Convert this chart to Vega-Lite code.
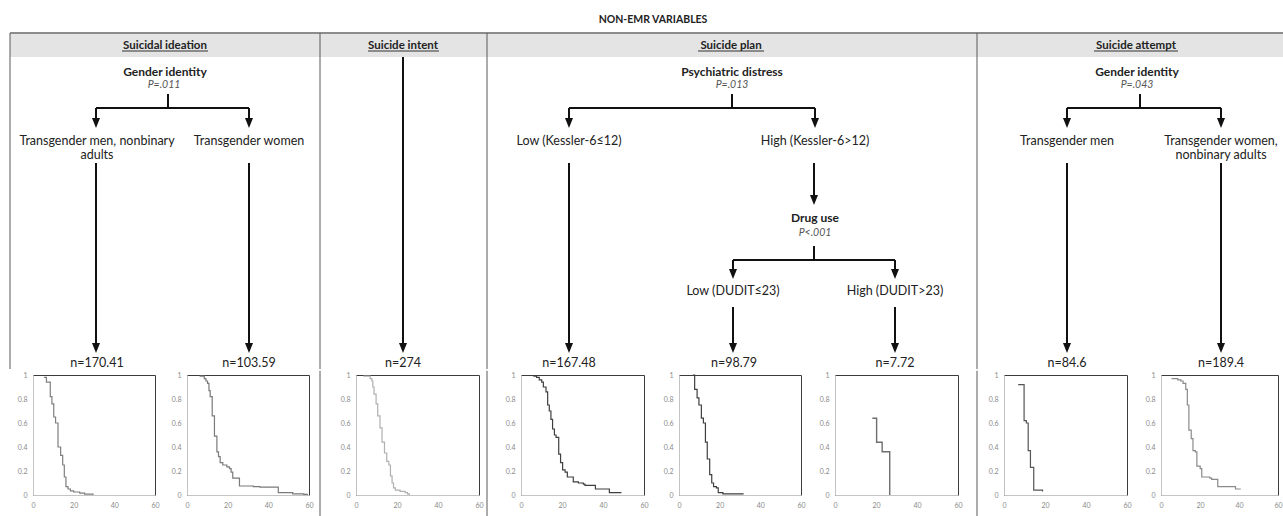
{
  "$schema": "https://vega.github.io/schema/vega-lite/v6.json",
  "padding": 0,
  "background": "white",
  "spacing": 0,
  "config": {
    "view": {"stroke": null},
    "concat": {"spacing": 0},
    "text": {"font": "Lato"},
    "axis": {"labelFont": "Lato", "labelColor": "#8a8a8a", "labelFontSize": 7, "domainColor": "#c4c4c4", "ticks": false, "grid": false}
  },
  "datasets": {
    "band": [{"x": 10, "x2": 1283, "y": 33, "y2": 57}],
    "lines": [
      {"kind": "frame", "x": 10, "y": 33, "x2": 1283, "y2": 33},
      {"kind": "divider", "x": 10, "y": 33, "x2": 10, "y2": 369},
      {"kind": "divider", "x": 320, "y": 33, "x2": 320, "y2": 369},
      {"kind": "divider", "x": 487, "y": 33, "x2": 487, "y2": 369},
      {"kind": "divider", "x": 977, "y": 33, "x2": 977, "y2": 369},
      {"kind": "underline", "x": 122, "y": 51, "x2": 208, "y2": 51},
      {"kind": "underline", "x": 368, "y": 51, "x2": 439, "y2": 51},
      {"kind": "underline", "x": 698, "y": 51, "x2": 764, "y2": 51},
      {"kind": "underline", "x": 1094, "y": 51, "x2": 1178, "y2": 51},
      {"kind": "edge", "x": 168, "y": 94, "x2": 168, "y2": 108},
      {"kind": "edge", "x": 96, "y": 108, "x2": 249, "y2": 108},
      {"kind": "edge", "x": 96, "y": 108, "x2": 96, "y2": 119},
      {"kind": "edge", "x": 249, "y": 108, "x2": 249, "y2": 119},
      {"kind": "edge", "x": 96, "y": 163, "x2": 96, "y2": 344},
      {"kind": "edge", "x": 249, "y": 163, "x2": 249, "y2": 344},
      {"kind": "edge", "x": 403, "y": 57, "x2": 403, "y2": 344},
      {"kind": "edge", "x": 732, "y": 94, "x2": 732, "y2": 108},
      {"kind": "edge", "x": 569, "y": 108, "x2": 815, "y2": 108},
      {"kind": "edge", "x": 569, "y": 108, "x2": 569, "y2": 119},
      {"kind": "edge", "x": 815, "y": 108, "x2": 815, "y2": 119},
      {"kind": "edge", "x": 569, "y": 163, "x2": 569, "y2": 344},
      {"kind": "edge", "x": 814, "y": 163, "x2": 814, "y2": 196},
      {"kind": "edge", "x": 814, "y": 246, "x2": 814, "y2": 260},
      {"kind": "edge", "x": 733, "y": 260, "x2": 895, "y2": 260},
      {"kind": "edge", "x": 733, "y": 260, "x2": 733, "y2": 270},
      {"kind": "edge", "x": 895, "y": 260, "x2": 895, "y2": 270},
      {"kind": "edge", "x": 733, "y": 307, "x2": 733, "y2": 344},
      {"kind": "edge", "x": 895, "y": 307, "x2": 895, "y2": 344},
      {"kind": "edge", "x": 1140, "y": 94, "x2": 1140, "y2": 108},
      {"kind": "edge", "x": 1067, "y": 108, "x2": 1221, "y2": 108},
      {"kind": "edge", "x": 1067, "y": 108, "x2": 1067, "y2": 119},
      {"kind": "edge", "x": 1221, "y": 108, "x2": 1221, "y2": 119},
      {"kind": "edge", "x": 1067, "y": 163, "x2": 1067, "y2": 344},
      {"kind": "edge", "x": 1221, "y": 163, "x2": 1221, "y2": 344}
    ],
    "heads": [
      {"x": 96, "y": 123}, {"x": 249, "y": 123}, {"x": 96, "y": 348}, {"x": 249, "y": 348},
      {"x": 403, "y": 348},
      {"x": 569, "y": 123}, {"x": 815, "y": 123}, {"x": 569, "y": 348}, {"x": 814, "y": 200},
      {"x": 733, "y": 274}, {"x": 895, "y": 274}, {"x": 733, "y": 348}, {"x": 895, "y": 348},
      {"x": 1067, "y": 123}, {"x": 1221, "y": 123}, {"x": 1067, "y": 348}, {"x": 1221, "y": 348}
    ],
    "texts": [
      {"kind": "title", "x": 653, "y": 20, "label": "NON-EMR VARIABLES"},
      {"kind": "header", "x": 165, "y": 46, "label": "Suicidal ideation"},
      {"kind": "header", "x": 403, "y": 46, "label": "Suicide intent"},
      {"kind": "header", "x": 731, "y": 46, "label": "Suicide plan"},
      {"kind": "header", "x": 1136, "y": 46, "label": "Suicide attempt"},
      {"kind": "node", "x": 165, "y": 72, "label": "Gender identity"},
      {"kind": "node", "x": 732, "y": 72, "label": "Psychiatric distress"},
      {"kind": "node", "x": 1137, "y": 72, "label": "Gender identity"},
      {"kind": "node", "x": 815, "y": 218, "label": "Drug use"},
      {"kind": "p", "x": 164, "y": 85, "label": "P=.011"},
      {"kind": "p", "x": 732, "y": 85, "label": "P=.013"},
      {"kind": "p", "x": 1137, "y": 85, "label": "P=.043"},
      {"kind": "p", "x": 815, "y": 233, "label": "P<.001"},
      {"kind": "leaf", "x": 97, "y": 141, "label": "Transgender men, nonbinary"},
      {"kind": "leaf", "x": 97, "y": 155, "label": "adults"},
      {"kind": "leaf", "x": 249, "y": 141, "label": "Transgender women"},
      {"kind": "leaf", "x": 569, "y": 141, "label": "Low (Kessler-6≤12)"},
      {"kind": "leaf", "x": 815, "y": 141, "label": "High (Kessler-6>12)"},
      {"kind": "leaf", "x": 733, "y": 291, "label": "Low (DUDIT≤23)"},
      {"kind": "leaf", "x": 895, "y": 291, "label": "High (DUDIT>23)"},
      {"kind": "leaf", "x": 1067, "y": 141, "label": "Transgender men"},
      {"kind": "leaf", "x": 1221, "y": 141, "label": "Transgender women,"},
      {"kind": "leaf", "x": 1221, "y": 155, "label": "nonbinary adults"},
      {"kind": "n", "x": 97, "y": 363, "label": "n=170.41"},
      {"kind": "n", "x": 249, "y": 363, "label": "n=103.59"},
      {"kind": "n", "x": 403, "y": 363, "label": "n=274"},
      {"kind": "n", "x": 569, "y": 363, "label": "n=167.48"},
      {"kind": "n", "x": 734, "y": 363, "label": "n=98.79"},
      {"kind": "n", "x": 895, "y": 363, "label": "n=7.72"},
      {"kind": "n", "x": 1067, "y": 363, "label": "n=84.6"},
      {"kind": "n", "x": 1221, "y": 363, "label": "n=189.4"}
    ],
    "km": [
      {"group": "p1", "t": 5.4, "s": 0.98}, {"group": "p1", "t": 6.6, "s": 0.94}, {"group": "p1", "t": 8.5, "s": 0.82}, {"group": "p1", "t": 9.3, "s": 0.76}, {"group": "p1", "t": 10.2, "s": 0.65}, {"group": "p1", "t": 11.1, "s": 0.6}, {"group": "p1", "t": 12.3, "s": 0.4}, {"group": "p1", "t": 13.6, "s": 0.33}, {"group": "p1", "t": 14.6, "s": 0.25}, {"group": "p1", "t": 15.4, "s": 0.15}, {"group": "p1", "t": 16.2, "s": 0.07}, {"group": "p1", "t": 17.2, "s": 0.05}, {"group": "p1", "t": 18.4, "s": 0.035}, {"group": "p1", "t": 20, "s": 0.025}, {"group": "p1", "t": 23, "s": 0.015}, {"group": "p1", "t": 25.4, "s": 0.007}, {"group": "p1", "t": 29.5, "s": 0},
      {"group": "p2", "t": 6.2, "s": 0.99}, {"group": "p2", "t": 8.5, "s": 0.97}, {"group": "p2", "t": 9.3, "s": 0.95}, {"group": "p2", "t": 10.1, "s": 0.93}, {"group": "p2", "t": 10.8, "s": 0.87}, {"group": "p2", "t": 11.4, "s": 0.82}, {"group": "p2", "t": 12.4, "s": 0.66}, {"group": "p2", "t": 13.5, "s": 0.49}, {"group": "p2", "t": 14.7, "s": 0.36}, {"group": "p2", "t": 15.5, "s": 0.32}, {"group": "p2", "t": 16.3, "s": 0.27}, {"group": "p2", "t": 17.6, "s": 0.25}, {"group": "p2", "t": 19.6, "s": 0.235}, {"group": "p2", "t": 20.9, "s": 0.22}, {"group": "p2", "t": 21.7, "s": 0.19}, {"group": "p2", "t": 22.5, "s": 0.14}, {"group": "p2", "t": 25.8, "s": 0.075}, {"group": "p2", "t": 32.6, "s": 0.07}, {"group": "p2", "t": 35.9, "s": 0.065}, {"group": "p2", "t": 44.9, "s": 0.02}, {"group": "p2", "t": 52, "s": 0.01}, {"group": "p2", "t": 57.4, "s": 0.005}, {"group": "p2", "t": 59.5, "s": 0.005},
      {"group": "p3", "t": 3.6, "s": 0.99}, {"group": "p3", "t": 6.9, "s": 0.97}, {"group": "p3", "t": 7.7, "s": 0.95}, {"group": "p3", "t": 8.2, "s": 0.9}, {"group": "p3", "t": 8.8, "s": 0.84}, {"group": "p3", "t": 9.8, "s": 0.76}, {"group": "p3", "t": 10.6, "s": 0.66}, {"group": "p3", "t": 11.7, "s": 0.56}, {"group": "p3", "t": 12.7, "s": 0.44}, {"group": "p3", "t": 13.9, "s": 0.35}, {"group": "p3", "t": 15, "s": 0.28}, {"group": "p3", "t": 16, "s": 0.25}, {"group": "p3", "t": 16.8, "s": 0.16}, {"group": "p3", "t": 17.6, "s": 0.1}, {"group": "p3", "t": 18.3, "s": 0.06}, {"group": "p3", "t": 19.2, "s": 0.04}, {"group": "p3", "t": 21.5, "s": 0.03}, {"group": "p3", "t": 24, "s": 0.02}, {"group": "p3", "t": 25.1, "s": 0.01}, {"group": "p3", "t": 26, "s": 0},
      {"group": "p4", "t": 6, "s": 0.99}, {"group": "p4", "t": 7.6, "s": 0.98}, {"group": "p4", "t": 8.9, "s": 0.96}, {"group": "p4", "t": 10.1, "s": 0.94}, {"group": "p4", "t": 10.9, "s": 0.9}, {"group": "p4", "t": 12.2, "s": 0.86}, {"group": "p4", "t": 13, "s": 0.75}, {"group": "p4", "t": 13.8, "s": 0.7}, {"group": "p4", "t": 14.6, "s": 0.63}, {"group": "p4", "t": 15.4, "s": 0.55}, {"group": "p4", "t": 16.3, "s": 0.5}, {"group": "p4", "t": 17.1, "s": 0.48}, {"group": "p4", "t": 18.4, "s": 0.34}, {"group": "p4", "t": 19.3, "s": 0.27}, {"group": "p4", "t": 20.3, "s": 0.21}, {"group": "p4", "t": 21.5, "s": 0.19}, {"group": "p4", "t": 22.6, "s": 0.15}, {"group": "p4", "t": 25.5, "s": 0.11}, {"group": "p4", "t": 28, "s": 0.1}, {"group": "p4", "t": 30.4, "s": 0.09}, {"group": "p4", "t": 31.2, "s": 0.08}, {"group": "p4", "t": 36.3, "s": 0.05}, {"group": "p4", "t": 43.1, "s": 0.02}, {"group": "p4", "t": 49, "s": 0.02},
      {"group": "p5", "t": 6.9, "s": 1}, {"group": "p5", "t": 7.7, "s": 0.88}, {"group": "p5", "t": 8.9, "s": 0.81}, {"group": "p5", "t": 9.8, "s": 0.75}, {"group": "p5", "t": 11, "s": 0.64}, {"group": "p5", "t": 12, "s": 0.6}, {"group": "p5", "t": 13, "s": 0.44}, {"group": "p5", "t": 13.9, "s": 0.3}, {"group": "p5", "t": 15.1, "s": 0.17}, {"group": "p5", "t": 16.1, "s": 0.1}, {"group": "p5", "t": 17, "s": 0.07}, {"group": "p5", "t": 18.4, "s": 0.06}, {"group": "p5", "t": 19.3, "s": 0.02}, {"group": "p5", "t": 21.6, "s": 0.01}, {"group": "p5", "t": 31.5, "s": 0.005},
      {"group": "p6", "t": 18.2, "s": 0.64}, {"group": "p6", "t": 20.3, "s": 0.44}, {"group": "p6", "t": 23, "s": 0.36}, {"group": "p6", "t": 26.7, "s": 0},
      {"group": "p7", "t": 6.9, "s": 0.92}, {"group": "p7", "t": 9.8, "s": 0.62}, {"group": "p7", "t": 10.9, "s": 0.6}, {"group": "p7", "t": 11.8, "s": 0.37}, {"group": "p7", "t": 12.9, "s": 0.23}, {"group": "p7", "t": 14.5, "s": 0.04}, {"group": "p7", "t": 18.8, "s": 0.03},
      {"group": "p8", "t": 5.4, "s": 0.97}, {"group": "p8", "t": 8.6, "s": 0.96}, {"group": "p8", "t": 10.2, "s": 0.95}, {"group": "p8", "t": 11.3, "s": 0.93}, {"group": "p8", "t": 12.7, "s": 0.88}, {"group": "p8", "t": 13.5, "s": 0.75}, {"group": "p8", "t": 14.3, "s": 0.54}, {"group": "p8", "t": 15.5, "s": 0.47}, {"group": "p8", "t": 16.4, "s": 0.37}, {"group": "p8", "t": 17.6, "s": 0.36}, {"group": "p8", "t": 18.4, "s": 0.24}, {"group": "p8", "t": 20.1, "s": 0.22}, {"group": "p8", "t": 20.9, "s": 0.15}, {"group": "p8", "t": 25, "s": 0.14}, {"group": "p8", "t": 26, "s": 0.13}, {"group": "p8", "t": 29.1, "s": 0.07}, {"group": "p8", "t": 38.2, "s": 0.05}, {"group": "p8", "t": 40.6, "s": 0.045}
    ],
    "div": [{"a": 0, "b": 1.03}]
  },
  "vconcat": [
    {
      "width": 1283,
      "height": 369,
      "encoding": {
        "x": {"field": "x", "type": "quantitative", "scale": {"domain": [0, 1283], "nice": false, "zero": false}, "axis": null},
        "y": {"field": "y", "type": "quantitative", "scale": {"domain": [0, 369], "nice": false, "zero": false, "reverse": true}, "axis": null}
      },
      "layer": [
        {"data": {"name": "band"}, "mark": {"type": "rect", "color": "#e4e4e4"}, "encoding": {"x2": {"field": "x2"}, "y2": {"field": "y2"}}},
        {"data": {"name": "lines"}, "transform": [{"filter": "datum.kind == 'frame'"}], "mark": {"type": "rule", "color": "#8c8c8c", "strokeWidth": 2}, "encoding": {"x2": {"field": "x2"}, "y2": {"field": "y2"}}},
        {"data": {"name": "lines"}, "transform": [{"filter": "datum.kind == 'divider'"}], "mark": {"type": "rule", "color": "#595959", "strokeWidth": 1}, "encoding": {"x2": {"field": "x2"}, "y2": {"field": "y2"}}},
        {"data": {"name": "lines"}, "transform": [{"filter": "datum.kind == 'underline'"}], "mark": {"type": "rule", "color": "#333333", "strokeWidth": 1}, "encoding": {"x2": {"field": "x2"}, "y2": {"field": "y2"}}},
        {"data": {"name": "lines"}, "transform": [{"filter": "datum.kind == 'edge'"}], "mark": {"type": "rule", "color": "#111111", "strokeWidth": 2}, "encoding": {"x2": {"field": "x2"}, "y2": {"field": "y2"}}},
        {"data": {"name": "heads"}, "mark": {"type": "point", "shape": "M-0.8,-1L0.8,-1L0,1Z", "size": 100, "filled": true, "color": "#111111", "opacity": 1, "strokeWidth": 0}},
        {"data": {"name": "texts"}, "transform": [{"filter": "datum.kind == 'title'"}], "mark": {"type": "text", "fontWeight": "bold", "fontSize": 10.5, "color": "#222222", "baseline": "middle"}, "encoding": {"text": {"field": "label"}}},
        {"data": {"name": "texts"}, "transform": [{"filter": "datum.kind == 'header'"}], "mark": {"type": "text", "fontWeight": "bold", "fontSize": 11.5, "color": "#222222", "baseline": "middle"}, "encoding": {"text": {"field": "label"}}},
        {"data": {"name": "texts"}, "transform": [{"filter": "datum.kind == 'node'"}], "mark": {"type": "text", "fontWeight": "bold", "fontSize": 12, "color": "#222222", "baseline": "middle"}, "encoding": {"text": {"field": "label"}}},
        {"data": {"name": "texts"}, "transform": [{"filter": "datum.kind == 'p'"}], "mark": {"type": "text", "fontStyle": "italic", "fontSize": 10.5, "color": "#555555", "baseline": "middle"}, "encoding": {"text": {"field": "label"}}},
        {"data": {"name": "texts"}, "transform": [{"filter": "datum.kind == 'leaf'"}], "mark": {"type": "text", "fontSize": 12.5, "color": "#222222", "baseline": "middle"}, "encoding": {"text": {"field": "label"}}},
        {"data": {"name": "texts"}, "transform": [{"filter": "datum.kind == 'n'"}], "mark": {"type": "text", "fontSize": 12.5, "color": "#222222", "baseline": "middle"}, "encoding": {"text": {"field": "label"}}}
      ]
    },
    {
      "bounds": "flush",
      "spacing": 0,
      "hconcat": [
        {"width": 33, "height": 1, "data": {"values": []}, "mark": {"type": "point", "opacity": 0}},
        {"width": 122, "height": 120, "view": {"stroke": "#3c3c3c"}, "data": {"name": "km"}, "transform": [{"filter": "datum.group == 'p1'"}], "mark": {"type": "line", "interpolate": "step-after", "color": "#7f7f7f", "strokeWidth": 1.2},
          "encoding": {"x": {"field": "t", "type": "quantitative", "scale": {"domain": [0, 60], "nice": false}, "axis": {"values": [0, 20, 40, 60], "labelFlush": false, "labelPadding": 6, "title": null}}, "y": {"field": "s", "type": "quantitative", "scale": {"domain": [0, 1], "nice": false}, "axis": {"values": [0, 0.2, 0.4, 0.6, 0.8, 1], "format": "~g", "labelPadding": 6, "title": null}}}},
        {"width": 32, "height": 1, "data": {"values": []}, "mark": {"type": "point", "opacity": 0}},
        {"width": 122, "height": 120, "view": {"stroke": "#3c3c3c"}, "data": {"name": "km"}, "transform": [{"filter": "datum.group == 'p2'"}], "mark": {"type": "line", "interpolate": "step-after", "color": "#7a7a7a", "strokeWidth": 1.2},
          "encoding": {"x": {"field": "t", "type": "quantitative", "scale": {"domain": [0, 60], "nice": false}, "axis": {"values": [0, 20, 40, 60], "labelFlush": false, "labelPadding": 6, "title": null}}, "y": {"field": "s", "type": "quantitative", "scale": {"domain": [0, 1], "nice": false}, "axis": {"values": [0, 0.2, 0.4, 0.6, 0.8, 1], "format": "~g", "labelPadding": 6, "title": null}}}},
        {"width": 11, "height": 1, "data": {"values": []}, "mark": {"type": "point", "opacity": 0}},
        {"width": 1, "height": 143, "data": {"name": "div"}, "mark": {"type": "rule", "color": "#595959", "strokeWidth": 1, "clip": false},
          "encoding": {"x": {"field": "a", "type": "quantitative", "scale": {"domain": [0, 1]}, "axis": null}, "y": {"field": "a", "type": "quantitative", "scale": {"domain": [0, 1], "nice": false}, "axis": null}, "y2": {"field": "b"}}},
        {"width": 35, "height": 1, "data": {"values": []}, "mark": {"type": "point", "opacity": 0}},
        {"width": 123, "height": 120, "view": {"stroke": "#3c3c3c"}, "data": {"name": "km"}, "transform": [{"filter": "datum.group == 'p3'"}], "mark": {"type": "line", "interpolate": "step-after", "color": "#b0b0b0", "strokeWidth": 1.2},
          "encoding": {"x": {"field": "t", "type": "quantitative", "scale": {"domain": [0, 60], "nice": false}, "axis": {"values": [0, 20, 40, 60], "labelFlush": false, "labelPadding": 6, "title": null}}, "y": {"field": "s", "type": "quantitative", "scale": {"domain": [0, 1], "nice": false}, "axis": {"values": [0, 0.2, 0.4, 0.6, 0.8, 1], "format": "~g", "labelPadding": 6, "title": null}}}},
        {"width": 8, "height": 1, "data": {"values": []}, "mark": {"type": "point", "opacity": 0}},
        {"width": 1, "height": 143, "data": {"name": "div"}, "mark": {"type": "rule", "color": "#595959", "strokeWidth": 1, "clip": false},
          "encoding": {"x": {"field": "a", "type": "quantitative", "scale": {"domain": [0, 1]}, "axis": null}, "y": {"field": "a", "type": "quantitative", "scale": {"domain": [0, 1], "nice": false}, "axis": null}, "y2": {"field": "b"}}},
        {"width": 33, "height": 1, "data": {"values": []}, "mark": {"type": "point", "opacity": 0}},
        {"width": 123, "height": 120, "view": {"stroke": "#3c3c3c"}, "data": {"name": "km"}, "transform": [{"filter": "datum.group == 'p4'"}], "mark": {"type": "line", "interpolate": "step-after", "color": "#3f3f3f", "strokeWidth": 1.2},
          "encoding": {"x": {"field": "t", "type": "quantitative", "scale": {"domain": [0, 60], "nice": false}, "axis": {"values": [0, 20, 40, 60], "labelFlush": false, "labelPadding": 6, "title": null}}, "y": {"field": "s", "type": "quantitative", "scale": {"domain": [0, 1], "nice": false}, "axis": {"values": [0, 0.2, 0.4, 0.6, 0.8, 1], "format": "~g", "labelPadding": 6, "title": null}}}},
        {"width": 35, "height": 1, "data": {"values": []}, "mark": {"type": "point", "opacity": 0}},
        {"width": 122, "height": 120, "view": {"stroke": "#3c3c3c"}, "data": {"name": "km"}, "transform": [{"filter": "datum.group == 'p5'"}], "mark": {"type": "line", "interpolate": "step-after", "color": "#3f3f3f", "strokeWidth": 1.2},
          "encoding": {"x": {"field": "t", "type": "quantitative", "scale": {"domain": [0, 60], "nice": false}, "axis": {"values": [0, 20, 40, 60], "labelFlush": false, "labelPadding": 6, "title": null}}, "y": {"field": "s", "type": "quantitative", "scale": {"domain": [0, 1], "nice": false}, "axis": {"values": [0, 0.2, 0.4, 0.6, 0.8, 1], "format": "~g", "labelPadding": 6, "title": null}}}},
        {"width": 34, "height": 1, "data": {"values": []}, "mark": {"type": "point", "opacity": 0}},
        {"width": 123, "height": 120, "view": {"stroke": "#3c3c3c"}, "data": {"name": "km"}, "transform": [{"filter": "datum.group == 'p6'"}], "mark": {"type": "line", "interpolate": "step-after", "color": "#6e6e6e", "strokeWidth": 1.4},
          "encoding": {"x": {"field": "t", "type": "quantitative", "scale": {"domain": [0, 60], "nice": false}, "axis": {"values": [0, 20, 40, 60], "labelFlush": false, "labelPadding": 6, "title": null}}, "y": {"field": "s", "type": "quantitative", "scale": {"domain": [0, 1], "nice": false}, "axis": {"values": [0, 0.2, 0.4, 0.6, 0.8, 1], "format": "~g", "labelPadding": 6, "title": null}}}},
        {"width": 19, "height": 1, "data": {"values": []}, "mark": {"type": "point", "opacity": 0}},
        {"width": 1, "height": 143, "data": {"name": "div"}, "mark": {"type": "rule", "color": "#595959", "strokeWidth": 1, "clip": false},
          "encoding": {"x": {"field": "a", "type": "quantitative", "scale": {"domain": [0, 1]}, "axis": null}, "y": {"field": "a", "type": "quantitative", "scale": {"domain": [0, 1], "nice": false}, "axis": null}, "y2": {"field": "b"}}},
        {"width": 26, "height": 1, "data": {"values": []}, "mark": {"type": "point", "opacity": 0}},
        {"width": 123, "height": 120, "view": {"stroke": "#3c3c3c"}, "data": {"name": "km"}, "transform": [{"filter": "datum.group == 'p7'"}], "mark": {"type": "line", "interpolate": "step-after", "color": "#555555", "strokeWidth": 1.2},
          "encoding": {"x": {"field": "t", "type": "quantitative", "scale": {"domain": [0, 60], "nice": false}, "axis": {"values": [0, 20, 40, 60], "labelFlush": false, "labelPadding": 6, "title": null}}, "y": {"field": "s", "type": "quantitative", "scale": {"domain": [0, 1], "nice": false}, "axis": {"values": [0, 0.2, 0.4, 0.6, 0.8, 1], "format": "~g", "labelPadding": 6, "title": null}}}},
        {"width": 34, "height": 1, "data": {"values": []}, "mark": {"type": "point", "opacity": 0}},
        {"width": 117, "height": 120, "view": {"stroke": "#3c3c3c"}, "data": {"name": "km"}, "transform": [{"filter": "datum.group == 'p8'"}], "mark": {"type": "line", "interpolate": "step-after", "color": "#8a8a8a", "strokeWidth": 1.2},
          "encoding": {"x": {"field": "t", "type": "quantitative", "scale": {"domain": [0, 60], "nice": false}, "axis": {"values": [0, 20, 40, 60], "labelFlush": false, "labelPadding": 6, "title": null}}, "y": {"field": "s", "type": "quantitative", "scale": {"domain": [0, 1], "nice": false}, "axis": {"values": [0, 0.2, 0.4, 0.6, 0.8, 1], "format": "~g", "labelPadding": 6, "title": null}}}}
      ]
    }
  ]
}
